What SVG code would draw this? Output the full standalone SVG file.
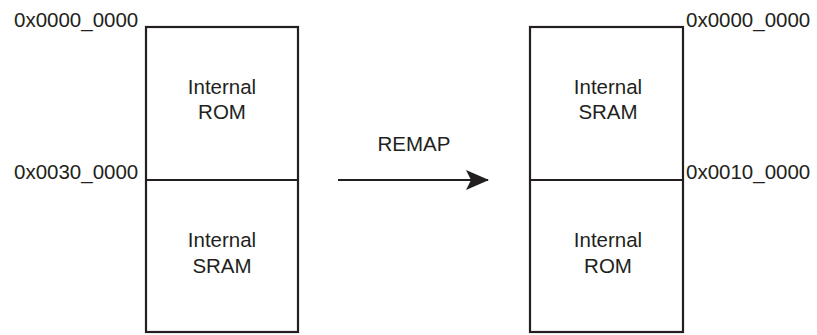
<svg xmlns="http://www.w3.org/2000/svg" width="817" height="335" viewBox="0 0 817 335">
<style>
.box{fill:#fff;stroke:#231f20;stroke-width:2.2}
.ln{stroke:#231f20;stroke-width:2.2;fill:none}
text{font-family:"Liberation Sans",Arial,sans-serif;font-size:20.5px;fill:#231f20}
.c{text-anchor:middle}
</style>
<defs>
<marker id="ah" markerWidth="23" markerHeight="20" refX="22" refY="10" orient="auto" markerUnits="userSpaceOnUse" viewBox="0 0 23 20">
<path d="M0,0 L23,10 L0,20 L5,10 Z" fill="#231f20"/>
</marker>
</defs>
<g id="left-map">
<rect class="box" x="146" y="27" width="152" height="305"/>
<line class="ln" x1="146" y1="180" x2="298" y2="180"/>
<text x="14" y="27">0x0000_0000</text>
<text x="14" y="179">0x0030_0000</text>
</g>
<g id="left-rom">
<text class="c" x="222" y="94">Internal</text>
<text class="c" x="222" y="119">ROM</text>
</g>
<g id="left-sram">
<text class="c" x="222" y="247">Internal</text>
<text class="c" x="222" y="273">SRAM</text>
</g>
<g id="right-map">
<rect class="box" x="530" y="27" width="153" height="305"/>
<line class="ln" x1="530" y1="180" x2="683" y2="180"/>
<text x="686" y="27">0x0000_0000</text>
<text x="686" y="179">0x0010_0000</text>
</g>
<g id="right-sram">
<text class="c" x="608" y="94">Internal</text>
<text class="c" x="608" y="119">SRAM</text>
</g>
<g id="right-rom">
<text class="c" x="608" y="247">Internal</text>
<text class="c" x="608" y="273">ROM</text>
</g>
<g id="connectors">
<line class="ln" x1="338" y1="180" x2="488" y2="180" marker-end="url(#ah)"/>
<text class="c" x="414" y="151">REMAP</text>
</g>
</svg>
